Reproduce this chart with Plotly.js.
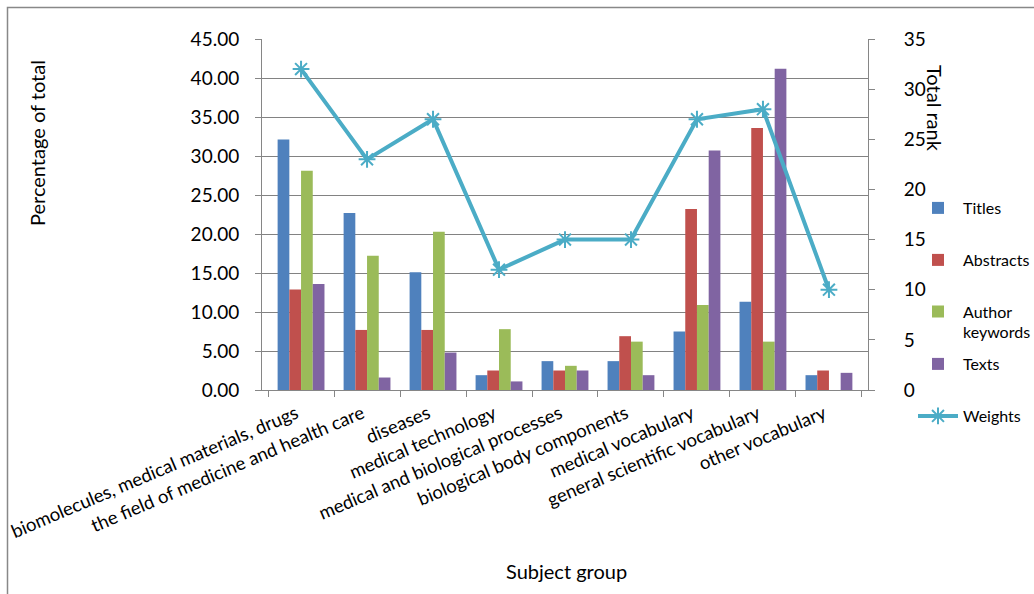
<!DOCTYPE html>
<html><head><meta charset="utf-8">
<script src="https://cdn.plot.ly/plotly-3.0.1.min.js"></script>
<style>html,body{margin:0;padding:0;background:#fff;}#chart{width:1034px;height:594px;}</style>
</head><body><div id="chart"></div>
<script>
const categories = ["biomolecules, medical materials, drugs","the field of medicine and health care","diseases","medical technology","medical and biological processes","biological body components","medical vocabulary","general scientific vocabulary","other vocabulary"];
const titles = [32.1, 22.7, 15.1, 1.9, 3.7, 3.7, 7.5, 11.3, 1.9];
const abstracts = [12.9, 7.7, 7.7, 2.5, 2.5, 6.9, 23.2, 33.6, 2.5];
const authorKeywords = [28.1, 17.2, 20.3, 7.8, 3.1, 6.2, 10.9, 6.2, 0];
const texts = [13.6, 1.6, 4.8, 1.1, 2.5, 1.9, 30.7, 41.2, 2.2];
const weights = [32, 23, 27, 12, 15, 15, 27, 28, 10];
const leftTicks = [0,5,10,15,20,25,30,35,40,45];
const rightTicks = [0,5,10,15,20,25,30,35];

const FONT = "Lato, 'Open Sans', sans-serif";
const colors = ["#4F81BD","#C0504D","#9BBB59","#8064A2","#4BACC6"];
const L = 262, R = 868, T = 39, B = 390, W = 1034, H = 594;
const px = x => (x - L) / (R - L);
const py = y => (B - y) / (B - T);

const barTrace = (name, vals, c, lg) => ({
  type: "bar", name: name, x: categories, y: vals, marker: {color: c, line: {width: 0}},
  legend: lg, hoverinfo: "y"
});
const data = [
  barTrace("Titles", titles, colors[0], "legend"),
  barTrace("Abstracts", abstracts, colors[1], "legend2"),
  barTrace("Author<br>keywords", authorKeywords, colors[2], "legend3"),
  barTrace("Texts", texts, colors[3], "legend4"),
  {type: "scatter", mode: "lines+markers", name: "Weights", x: categories, y: weights, yaxis: "y2",
   line: {color: colors[4], width: 4}, marker: {symbol: "asterisk-open", size: 14, color: colors[4], line: {color: colors[4], width: 2}},
   legend: "legend5"}
];
const legendAt = (yc) => ({
  xref: "container", yref: "container", x: 913 / W, y: 1 - yc / H, xanchor: "left", yanchor: "middle",
  bgcolor: "rgba(0,0,0,0)", font: {family: FONT, size: 16, color: "#000"}, itemwidth: 40, valign: "top"
});
const layout = {
  width: W, height: H,
  margin: {l: L, r: W - R, t: T, b: H - B, pad: 0},
  paper_bgcolor: "#fff", plot_bgcolor: "#fff",
  font: {family: FONT, size: 19, color: "#000"},
  barmode: "group", bargap: 0.29, bargroupgap: 0,
  showlegend: true,
  legend: legendAt(208), legend2: legendAt(260), legend3: legendAt(322), legend4: legendAt(364), legend5: legendAt(416),
  xaxis: {type: "category", tickangle: -23, tickson: "boundaries", ticks: "outside", ticklen: 6, tickcolor: "#868686",
          showline: true, linecolor: "#868686", linewidth: 1, showgrid: false, ticklabelstandoff: 5, ticklabelshift: -5,
          tickfont: {family: FONT, size: 18.5}},
  yaxis: {range: [0, 45], tickvals: leftTicks, tickformat: ".2f", ticks: "outside", ticklen: 6, tickcolor: "#868686",
          showline: true, linecolor: "#868686", gridcolor: "#828282", gridwidth: 1, zeroline: false,
          ticklabelstandoff: 12, tickfont: {family: FONT, size: 19}},
  yaxis2: {range: [0, 35], tickvals: rightTicks, overlaying: "y", side: "right", ticks: "outside", ticklen: 6,
           tickcolor: "#868686", showline: true, linecolor: "#868686", showgrid: false, zeroline: false,
           ticklabelstandoff: 25, tickfont: {family: FONT, size: 19}},
  annotations: [
    {text: "Percentage of total", xref: "paper", yref: "paper", x: px(37), y: py(143), textangle: -90, showarrow: false,
     xanchor: "center", yanchor: "middle", font: {family: FONT, size: 20}},
    {text: "Total rank", xref: "paper", yref: "paper", x: px(935), y: py(108), textangle: 90, showarrow: false,
     xanchor: "center", yanchor: "middle", font: {family: FONT, size: 20}},
    {text: "Subject group", xref: "paper", yref: "paper", x: px(566), y: py(571), showarrow: false,
     xanchor: "center", yanchor: "middle", font: {family: FONT, size: 20}}
  ],
  shapes: [
    {type: "rect", xref: "paper", yref: "paper", x0: px(7.5), x1: px(1050), y0: py(620), y1: py(7.5),
     line: {color: "#888", width: 1.5}, fillcolor: "rgba(0,0,0,0)", layer: "below"}
  ]
};
Plotly.newPlot("chart", data, layout, {displayModeBar: false, staticPlot: true});
</script></body></html>
